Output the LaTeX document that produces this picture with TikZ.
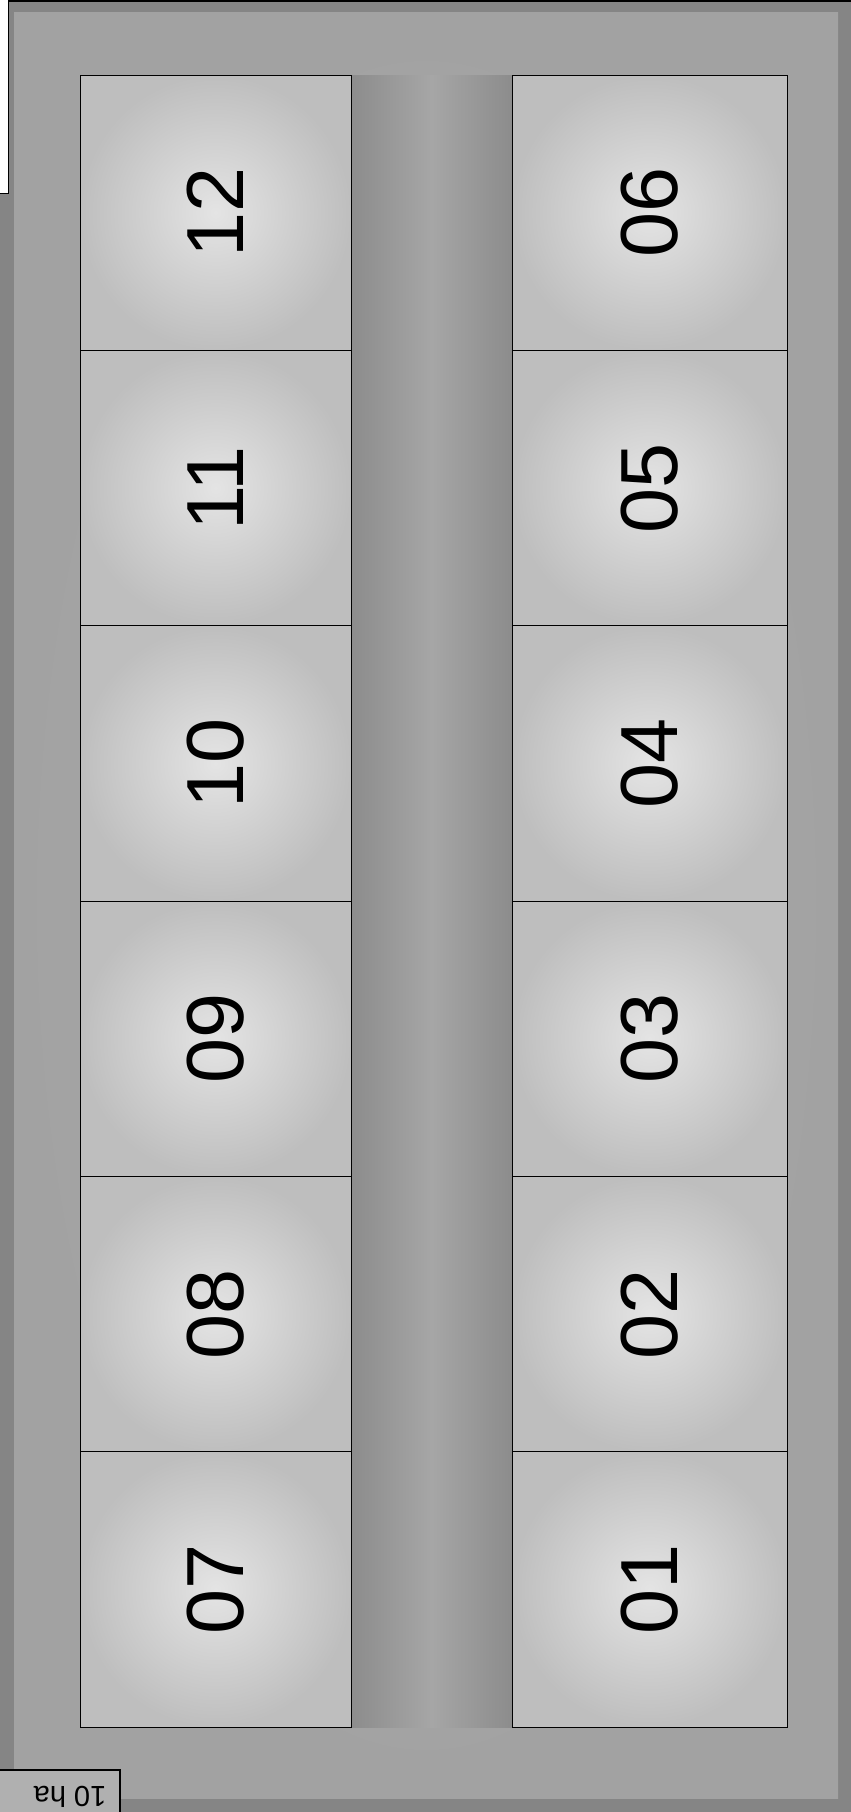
\documentclass[tikz,border=0pt]{standalone}
\usepackage{fontspec}
\setmainfont{Liberation Sans}
\definecolor{rimc}{HTML}{858585}
\definecolor{bgc}{HTML}{A2A2A2}
\definecolor{roadedge}{HTML}{8C8C8C}
\definecolor{roadmid}{HTML}{A6A6A6}
\definecolor{cellin}{HTML}{E4E4E4}
\definecolor{cellout}{HTML}{BEBEBE}
\begin{document}
\begin{tikzpicture}[x=1pt,y=-1pt,
  cellbox/.style={draw=black, line width=0.9pt, inner color=cellin, outer color=cellout,
    minimum width=271pt, minimum height=275.33pt, inner sep=0pt, outer sep=0pt},
  cellboxr/.style={cellbox, minimum width=275pt},
  plotlabel/.style={rotate=90, font=\fontsize{81}{81}\selectfont, text=black, inner sep=0pt},
  halabel/.style={rotate=180, font=\fontsize{29}{29}\selectfont, inner sep=0pt, anchor=base}]
\useasboundingbox (0,0) rectangle (851,1812);
\clip (0,0) rectangle (851,1812);
% background
\fill[rimc] (0,0) rectangle (851,1812);
\shade[inner color=bgc!90!white, outer color=bgc] (14,12) rectangle (838,1798);
% road between the two columns
\shade[left color=roadedge, right color=roadedge, middle color=roadmid] (351,75) rectangle (512,1727);
% top-left paper notch
\fill[white] (0,0) rectangle (8,193);
\draw[line width=1pt] (8,0) -- (8,193) -- (0,193);
\draw[line width=1.5pt] (8,1) -- (851,1);
% plots, left column (07 bottom .. 12 top)
\foreach \lab [count=\i from 0] in {12,11,10,09,08,07}{
  \node (L\lab) [cellbox] at (215.5, 75+275.33*\i+137.67) {};
  \node (tL\lab) [plotlabel] at (L\lab.center) {\lab};
}
% plots, right column (01 bottom .. 06 top)
\foreach \lab [count=\i from 0] in {06,05,04,03,02,01}{
  \node (R\lab) [cellboxr] at (649.5, 75+275.33*\i+137.67) {};
  \node (tR\lab) [plotlabel] at (R\lab.center) {\lab};
}
% area label box (upside down, at the page edge)
\draw[line width=1.2pt, fill=bgc!85!white] (-2,1770) rectangle (120,1830);
\node (ha) [halabel] at (70,1786) {10 ha};
\end{tikzpicture}
\end{document}
